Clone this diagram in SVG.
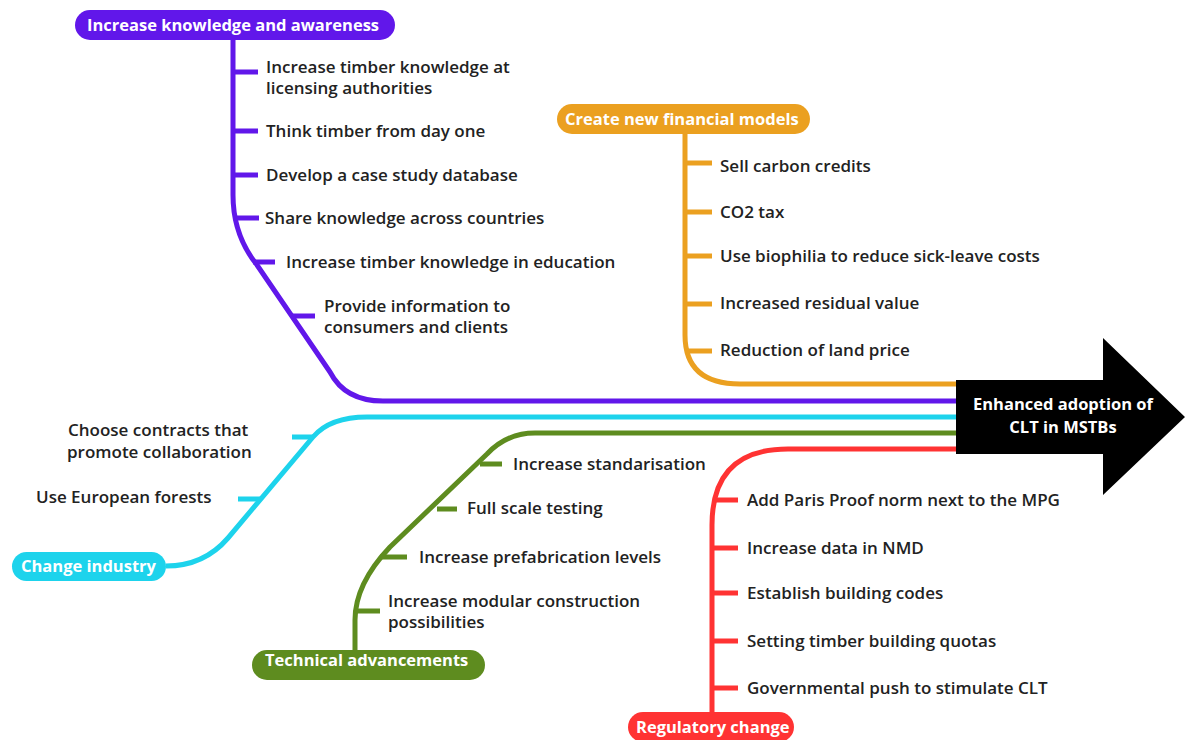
<svg xmlns="http://www.w3.org/2000/svg" width="1185" height="740" viewBox="0 0 1185 740">
<style>
.t{font-family:"Open Sans","Noto Sans","Liberation Sans",sans-serif;font-size:17px;font-weight:600;fill:#222222}
.p{font-family:"Open Sans","Noto Sans","Liberation Sans",sans-serif;font-size:16.5px;font-weight:700;fill:#ffffff}
.ln{fill:none;stroke-width:5;stroke-linecap:butt;stroke-linejoin:round}
.purple{stroke:#6117EA}.orange{stroke:#EBA020}.cyan{stroke:#1DD3EC}.green{stroke:#5E8C1F}.red{stroke:#FF3333}
</style>
<rect width="1185" height="740" fill="#ffffff"/>
<g id="connectors">
  <path class="ln purple" d="M233,40 L233,195 Q233,235 257,265 L330,372 Q345,401 383,401 L960,401"/>
  <path class="ln purple" d="M233,72 H258 M233,131 H258 M233,175 H258 M237,218 H259 M253,262 H275 M292,316 H315"/>
  <path class="ln orange" d="M685,134 L685,335 Q685,384 740,384 L960,384"/>
  <path class="ln orange" d="M685,163 H712 M685,212 H712 M685,256 H712 M685,304 H712 M688,351 H712"/>
  <path class="ln cyan" d="M166,566 Q204,566 228,538 L313,437 Q330,417 367,417 L960,417"/>
  <path class="ln cyan" d="M292,437 H313 M238,499 H260"/>
  <path class="ln green" d="M355,650 L355,620 Q355,584 390,547 L487,454 Q507,433 535,433 L960,433"/>
  <path class="ln green" d="M480,464 H502 M437,509 H457 M380,557 H407 M355,611 H380"/>
  <path class="ln red" d="M712,712 L712,525 Q712,449 788,449 L960,449"/>
  <path class="ln red" d="M714,500 H738 M712,548 H738 M712,593 H738 M712,641 H738 M712,688 H738"/>
</g>
<g id="node-result">
  <polygon points="956,380 1103,380 1103,338 1185,417 1103,495 1103,454 956,454" fill="#000000"/>
  <text class="p" x="1063" y="410" text-anchor="middle">Enhanced adoption of</text>
  <text class="p" x="1063" y="433" text-anchor="middle">CLT in MSTBs</text>
</g>
<g id="node-knowledge">
  <rect x="75" y="10" width="320" height="30" rx="15" fill="#6117EA"/>
  <text class="p" x="87" y="31">Increase knowledge and awareness</text>
</g>
<g id="leaf-k1"><text class="t" x="266" y="73">Increase timber knowledge at</text><text class="t" x="266" y="94">licensing authorities</text></g>
<g id="leaf-k2"><text class="t" x="266" y="137">Think timber from day one</text></g>
<g id="leaf-k3"><text class="t" x="266" y="181">Develop a case study database</text></g>
<g id="leaf-k4"><text class="t" x="265" y="224">Share knowledge across countries</text></g>
<g id="leaf-k5"><text class="t" x="286" y="268">Increase timber knowledge in education</text></g>
<g id="leaf-k6"><text class="t" x="324" y="312">Provide information to</text><text class="t" x="324" y="333">consumers and clients</text></g>
<g id="node-financial">
  <rect x="557" y="104" width="253" height="30" rx="15" fill="#EBA020"/>
  <text class="p" x="565" y="125">Create new financial models</text>
</g>
<g id="leaf-f1"><text class="t" x="720" y="172">Sell carbon credits</text></g>
<g id="leaf-f2"><text class="t" x="720" y="218">CO2 tax</text></g>
<g id="leaf-f3"><text class="t" x="720" y="262">Use biophilia to reduce sick-leave costs</text></g>
<g id="leaf-f4"><text class="t" x="720" y="309">Increased residual value</text></g>
<g id="leaf-f5"><text class="t" x="720" y="356">Reduction of land price</text></g>
<g id="node-industry">
  <rect x="12" y="552" width="154" height="29" rx="14.5" fill="#1DD3EC"/>
  <text class="p" x="21" y="572">Change industry</text>
</g>
<g id="leaf-i1"><text class="t" x="68" y="436">Choose contracts that</text><text class="t" x="67" y="458">promote collaboration</text></g>
<g id="leaf-i2"><text class="t" x="36" y="503">Use European forests</text></g>
<g id="node-technical">
  <rect x="252" y="650" width="233" height="30" rx="15" fill="#5E8C1F"/>
  <text class="p" x="265" y="666">Technical advancements</text>
</g>
<g id="leaf-t1"><text class="t" x="513" y="470">Increase standarisation</text></g>
<g id="leaf-t2"><text class="t" x="467" y="514">Full scale testing</text></g>
<g id="leaf-t3"><text class="t" x="419" y="563">Increase prefabrication levels</text></g>
<g id="leaf-t4"><text class="t" x="388" y="607">Increase modular construction</text><text class="t" x="388" y="628">possibilities</text></g>
<g id="node-regulatory">
  <rect x="628" y="712" width="166" height="30" rx="15" fill="#FF3333"/>
  <text class="p" x="636" y="733">Regulatory change</text>
</g>
<g id="leaf-r1"><text class="t" x="747" y="506">Add Paris Proof norm next to the MPG</text></g>
<g id="leaf-r2"><text class="t" x="747" y="554">Increase data in NMD</text></g>
<g id="leaf-r3"><text class="t" x="747" y="599">Establish building codes</text></g>
<g id="leaf-r4"><text class="t" x="747" y="647">Setting timber building quotas</text></g>
<g id="leaf-r5"><text class="t" x="747" y="694">Governmental push to stimulate CLT</text></g>
</svg>
